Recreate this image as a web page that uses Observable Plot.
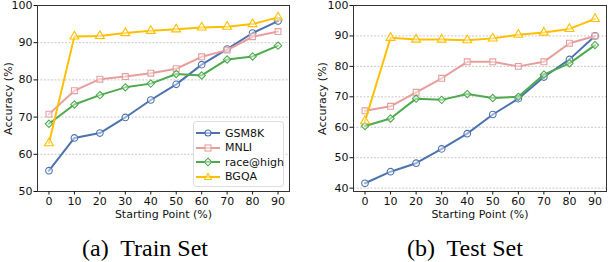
<!DOCTYPE html>
<html>
<head>
<meta charset="utf-8">
<script src="https://cdn.jsdelivr.net/npm/d3@7"></script>
<script src="https://cdn.jsdelivr.net/npm/@observablehq/plot@0.6"></script>
<style>
  html, body { margin: 0; padding: 0; background: #fff; }
  #wrap { position: relative; width: 608px; height: 262px; overflow: hidden; font-family: "DejaVu Sans", sans-serif; }
  .panel { position: absolute; top: 0; }
  .cap { position: absolute; font-family: "Liberation Serif", "Times New Roman", serif; font-size: 24px; line-height: 24px; color: #000; white-space: nowrap; transform: translateX(-50%); }
  #legend { position: absolute; left: 193px; top: 121px; width: 89px; height: 64px; border: 1px solid #ddd; border-radius: 3px; background: rgba(255,255,255,0.85); font-size: 11px; }
  #legend .row { position: absolute; left: 2px; height: 14px; display: flex; align-items: center; }
  #legend .row span { margin-left: 5px; color: #111; }
</style>
</head>
<body>
<div id="wrap">
  <div id="left" class="panel" style="left:0"></div>
  <div id="right" class="panel" style="left:304px"></div>
  <div id="legend"></div>
  <div class="cap" style="left:145px; top:236px">(a)&nbsp; Train Set</div>
  <div class="cap" style="left:465px; top:236px">(b)&nbsp; Test Set</div>
</div>
<script>
const startingPoints = [0, 10, 20, 30, 40, 50, 60, 70, 80, 90];
const seriesNames = ["GSM8K", "MNLI", "race@high", "BGQA"];

const trainGSM8K = [55.6, 64.4, 65.7, 69.9, 74.6, 78.8, 84.1, 88.3, 92.6, 95.8];
const trainMNLI  = [70.8, 77.1, 80.2, 80.9, 81.8, 83.0, 86.2, 88.0, 91.6, 93.0];
const trainRace  = [68.2, 73.4, 75.9, 78.0, 79.0, 81.6, 81.2, 85.5, 86.3, 89.2];
const trainBGQA  = [63.0, 91.7, 91.8, 92.6, 93.2, 93.6, 94.1, 94.3, 95.0, 96.8];

const testGSM8K = [41.6, 45.4, 48.2, 52.9, 57.9, 64.2, 69.4, 76.5, 82.3, 90.0];
const testMNLI  = [65.4, 66.9, 71.5, 76.1, 81.5, 81.5, 80.0, 81.5, 87.6, 90.0];
const testRace  = [60.4, 62.9, 69.4, 69.0, 70.9, 69.6, 70.0, 77.3, 81.0, 87.0];
const testBGQA  = [62.0, 89.4, 88.8, 88.8, 88.6, 89.2, 90.4, 91.1, 92.3, 95.6];

const xTicks = [0, 10, 20, 30, 40, 50, 60, 70, 80, 90];
const trainYTicks = [50, 60, 70, 80, 90, 100];
const testYTicks = [40, 50, 60, 70, 80, 90, 100];

const colors = {"GSM8K": "#4C72B0", "MNLI": "#E89D9D", "race@high": "#4EAA4E", "BGQA": "#FFBF00"};
const symbols = {"GSM8K": "circle", "MNLI": "square", "race@high": "diamond2", "BGQA": "triangle"};

function toRows(arrs) {
  const rows = [];
  seriesNames.forEach((name, i) => {
    arrs[i].forEach((v, j) => rows.push({series: name, x: startingPoints[j], y: v}));
  });
  return rows;
}

function panel(rows, yDomain, yTicks, marginLeft, marginRight, labelOffset) {
  const marks = [
    Plot.gridY(yTicks, {stroke: "#bbb", strokeOpacity: 1, strokeDasharray: "2,1.5", strokeWidth: 0.8}),
  ];
  for (const name of seriesNames) {
    const d = rows.filter(r => r.series === name);
    marks.push(Plot.line(d, {x: "x", y: "y", stroke: colors[name], strokeWidth: 2}));
    marks.push(Plot.dot(d, {x: "x", y: "y", stroke: colors[name], fill: "white", fillOpacity: 0.45, r: 3.3, strokeWidth: 1.1, symbol: () => symbols[name]}));
  }
  marks.push(Plot.frame({stroke: "#333", strokeWidth: 1}));
  marks.push(Plot.axisX(xTicks, {tickSize: 3.5, tickPadding: 2, fontSize: 11, label: "Starting Point (%)", labelAnchor: "center", labelArrow: "none", labelOffset: 26}));
  marks.push(Plot.axisY(yTicks, {tickSize: 3.5, tickPadding: 1.5, fontSize: 11, label: "Accuracy (%)", labelAnchor: "center", labelArrow: "none", labelOffset: labelOffset}));
  return Plot.plot({
    width: 304,
    height: 228,
    marginLeft, marginRight,
    marginTop: 5,
    marginBottom: 37,
    style: {fontFamily: "DejaVu Sans, sans-serif", fontSize: "11px", color: "#111", background: "transparent"},
    x: {domain: [-4.5, 94.5]},
    y: {domain: yDomain},
    marks
  });
}

document.getElementById("left").appendChild(
  panel(toRows([trainGSM8K, trainMNLI, trainRace, trainBGQA]), [50, 100], trainYTicks, 37, 15, 33));
document.getElementById("right").appendChild(
  panel(toRows([testGSM8K, testMNLI, testRace, testBGQA]), [38.9, 100], testYTicks, 49, 2, 35));

// legend
const leg = document.getElementById("legend");
const symPath = {
  "GSM8K": '<circle cx="12" cy="7" r="3" />',
  "MNLI": '<rect x="9" y="4" width="6" height="6" />',
  "race@high": '<path d="M12,3.2 L15.8,7 L12,10.8 L8.2,7 Z" />',
  "BGQA": '<path d="M12,3.5 L15.5,9.5 L8.5,9.5 Z" />'
};
seriesNames.forEach((name, i) => {
  const row = document.createElement("div");
  row.className = "row";
  row.style.top = (4 + i * 14.6) + "px";
  row.innerHTML = `<svg width="24" height="14"><line x1="0" y1="7" x2="24" y2="7" stroke="${colors[name]}" stroke-width="2"/><g stroke="${colors[name]}" stroke-width="1.1" fill="#fff" fill-opacity="0.5">${symPath[name]}</g></svg><span>${name}</span>`;
  leg.appendChild(row);
});
</script>
</body>
</html>
